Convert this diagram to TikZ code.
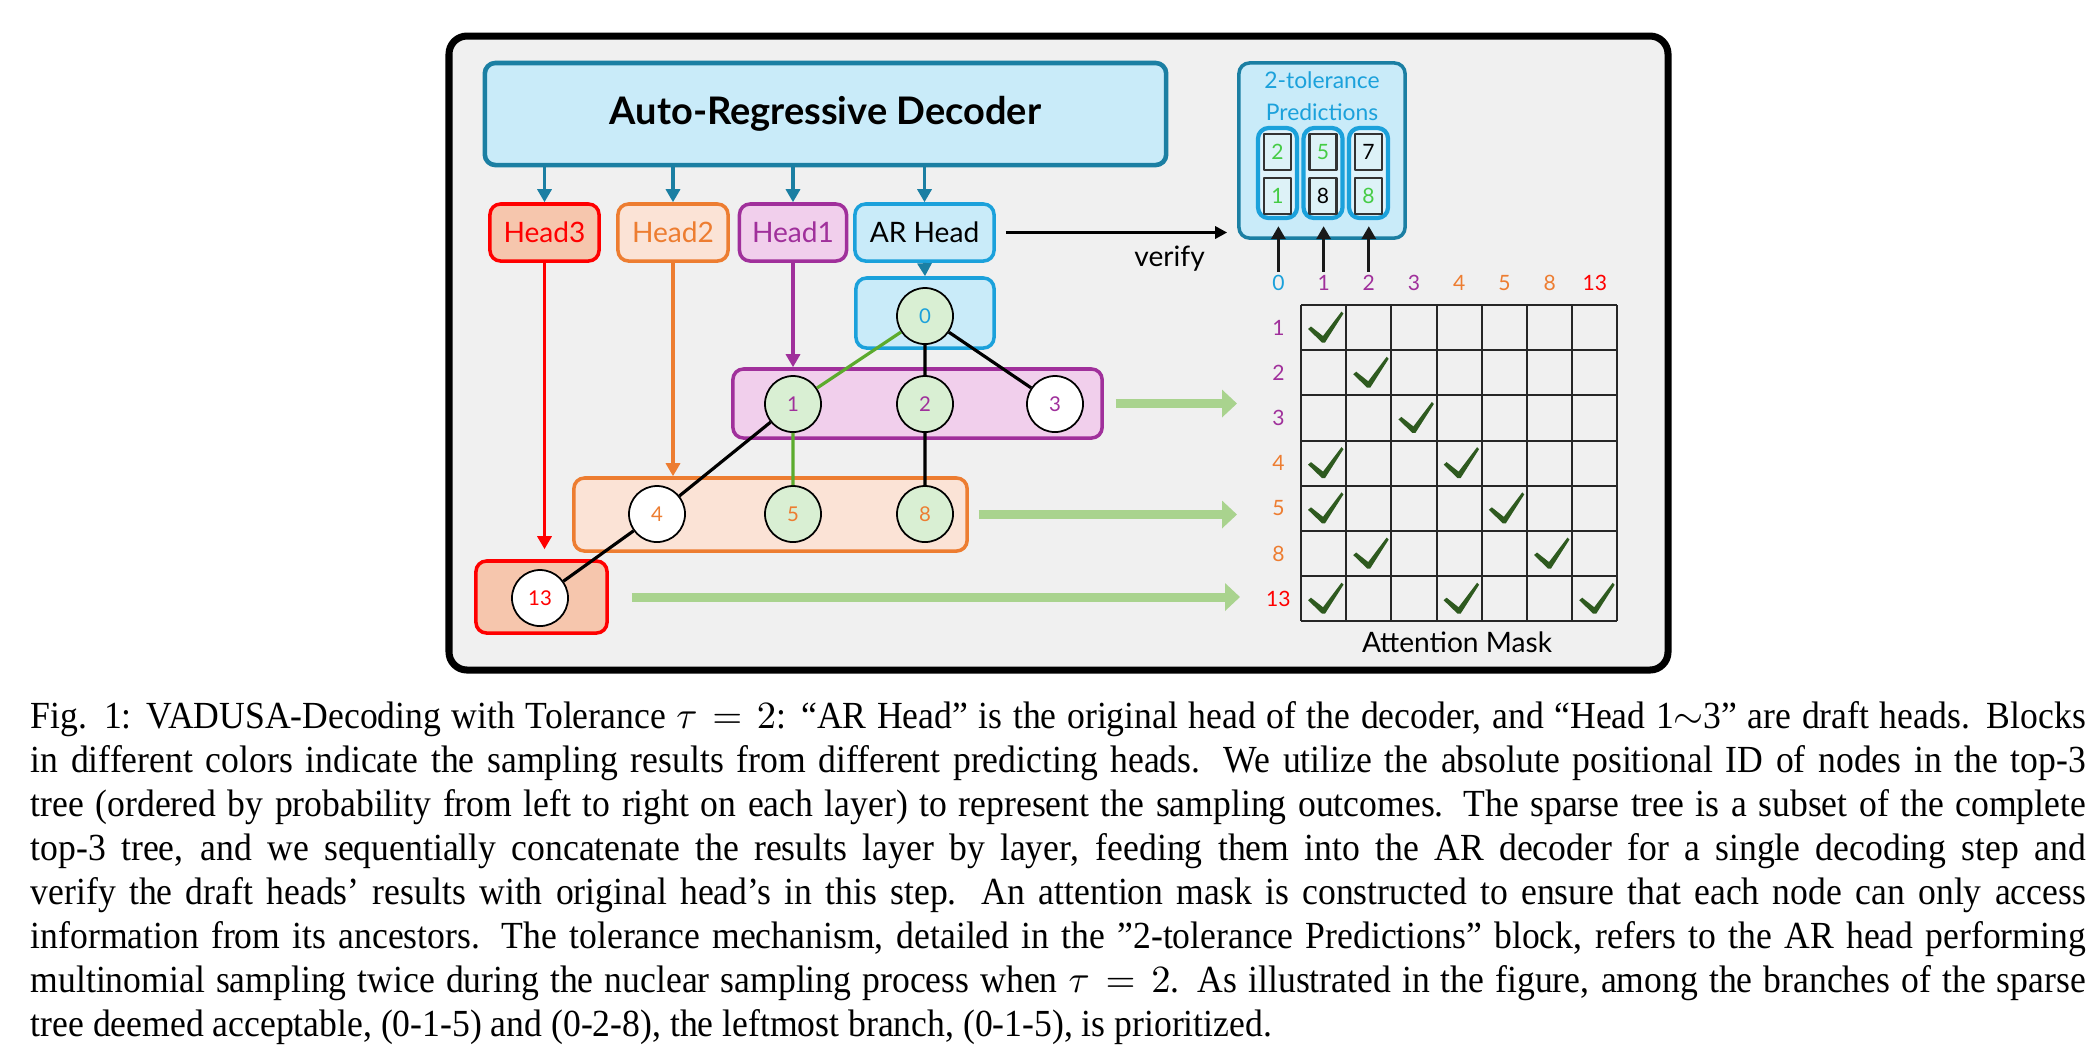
\documentclass[tikz,border=0pt]{standalone}
\usepackage{fontspec}
\setmainfont{Liberation Serif}[FakeStretch=0.93]
\newfontfamily\diagfont{Lato}
\usetikzlibrary{arrows.meta}
\definecolor{decline}{HTML}{1B7FA3}
\definecolor{decfill}{HTML}{C9EBF9}
\definecolor{arblue}{HTML}{1BA1DB}
\definecolor{hpurple}{HTML}{A0309B}
\definecolor{hpurplefill}{HTML}{F1CFEC}
\definecolor{horange}{HTML}{ED7D31}
\definecolor{horangefill}{HTML}{FBE3D6}
\definecolor{hred}{HTML}{FF0000}
\definecolor{hredfill}{HTML}{F6C6AD}
\definecolor{leaf}{HTML}{D9EFD3}
\definecolor{edgegreen}{HTML}{5CAB2D}
\definecolor{flowgreen}{HTML}{A9D38E}
\definecolor{tickgreen}{HTML}{2E5A1F}
\definecolor{predgreen}{HTML}{45CC45}
\definecolor{panel}{HTML}{F0F0F0}
\definecolor{cellfill}{HTML}{DDF2F7}
\begin{document}
\begin{tikzpicture}[x=0.01cm,y=-0.01cm,line join=round,
	blk/.style={draw=#1,line width=1pt,rounded corners=3pt,inner sep=0pt},
	hd/.style={blk=#1,minimum height=0.57cm,text=#1,font=\diagfont\fontsize{8}{10}\selectfont},
	tok/.style={circle,draw,line width=0.5pt,minimum size=0.56cm,inner sep=0pt,font=\diagfont\fontsize{5.8}{7}\selectfont},
	lbl/.style={inner sep=0pt,font=\diagfont\fontsize{6}{7}\selectfont},
	cell/.style={draw=black!80,line width=0.6pt,fill=cellfill,minimum width=0.27cm,minimum height=0.36cm,inner sep=0pt,font=\diagfont\fontsize{6}{7}\selectfont},
	hdarr/.style={-{Triangle[length=0.13cm,width=0.14cm]},line width=0.9pt},
	feed/.style={-{Triangle[length=0.15cm,width=0.27cm]},line width=0.09cm,flowgreen}]
	\useasboundingbox (0,0) rectangle (2100,1059);
	\draw[line width=2pt,rounded corners=0.18cm,fill=panel] (449,36) rectangle (1668,670);
	\node[blk=decline,line width=1.3pt,fill=decfill,minimum width=6.81cm,minimum height=1.02cm,font=\diagfont\bfseries\fontsize{10.8}{12}\selectfont] (dec) at (825.5,114) {Auto-Regressive Decoder};
	\node[hd=hred,fill=hredfill,minimum width=1.09cm] (h3) at (544.5,232.5) {Head3};
	\node[hd=horange,fill=horangefill,minimum width=1.10cm] (h2) at (673,232.5) {Head2};
	\node[hd=hpurple,fill=hpurplefill,minimum width=1.07cm] (h1) at (793,232.5) {Head1};
	\node[hd=arblue,fill=decfill,minimum width=1.39cm,text=black] (ar) at (924.5,232.5) {AR Head};
	\foreach \h in {h3,h2,h1,ar}\draw[hdarr,decline] (\h.north |- dec.south) -- (\h.north);
	\node[blk=arblue,fill=decfill,minimum width=1.38cm,minimum height=0.70cm] (b0) at (925,313) {};
	\node[blk=hpurple,fill=hpurplefill,minimum width=3.69cm,minimum height=0.69cm] (b1) at (917.5,403.5) {};
	\node[blk=horange,fill=horangefill,minimum width=3.93cm,minimum height=0.73cm] (b2) at (770.5,514.5) {};
	\node[blk=hred,fill=hredfill,minimum width=1.31cm,minimum height=0.72cm] (b3) at (541.5,597) {};
	\draw[hdarr,decline] (ar.south) -- (b0.north);
	\draw[hdarr,hpurple] (h1.south) -- (h1.south |- b1.north);
	\draw[hdarr,horange] (h2.south) -- (h2.south |- b2.north);
	\draw[hdarr,hred,shorten >=0.1cm] (h3.south) -- (h3.south |- b3.north);
	\foreach \n/\x/\y/\cl/\f in {0/925/316/arblue/leaf,1/793/404/hpurple/leaf,2/925/404/hpurple/leaf,3/1055/404/hpurple/white,4/657/514/horange/white,5/793/514/horange/leaf,8/925/514/horange/leaf,13/540/598/hred/white}
		\node[tok,fill=\f,text=\cl] (n\n) at (\x,\y) {\n};
	\draw[line width=0.9pt,edgegreen] (n0)--(n1)--(n5);
	\draw[line width=0.9pt] (n0)--(n2)--(n8) (n0)--(n3) (n1)--(n4)--(n13);
	\node[blk=decline,fill=decfill,minimum width=1.66cm,minimum height=1.75cm] (tol) at (1322,150.5) {};
	\node[align=center,inner sep=0pt,text=arblue,font=\diagfont\fontsize{6.5}{9.1}\selectfont] (toltxt) at (1322,96) {2-tolerance\\Predictions};
	\draw[-{Triangle[length=0.12cm,width=0.12cm]},line width=0.9pt,shorten <=0.1cm,shorten >=0.1cm] (ar) -- (ar -| tol.west) node[pos=0.72,below,font=\diagfont\fontsize{8}{10}\selectfont] (vlab) {verify};
	\foreach \i/\x/\t/\b/\tc/\bc in {0/1277.5/2/1/predgreen/predgreen,1/1323/5/8/predgreen/black,2/1368.5/7/8/black/predgreen}{
		\node[blk=arblue,line width=1.2pt,fill=decfill!60!white,minimum width=0.39cm,minimum height=0.90cm] (c\i) at (\x,173) {};
		\node[cell,text=\tc] (ct\i) at ([yshift=0.21cm]c\i.center) {\t};
		\node[cell,text=\bc] (cb\i) at ([yshift=-0.23cm]c\i.center) {\b};
	}
	\foreach \t/\cl [count=\k from 0] in {0/arblue,1/hpurple,2/hpurple,3/hpurple,4/horange,5/horange,8/horange,13/hred}
		\node[lbl,text=\cl] (col\t) at ({1278.4+45.2*\k},283) {\t};
	\foreach \i in {0,1,2}\draw[hdarr,black!90,shorten <=0.03cm,shorten >=0.06cm] (col\i.north) -- (col\i.north |- c\i.south);
	\foreach \t/\cl [count=\k] in {1/hpurple,2/hpurple,3/hpurple,4/horange,5/horange,8/horange,13/hred}
		\node[lbl,text=\cl] (row\t) at (1278.4,{282.4+45.2*\k}) {\t};
	\foreach \k in {0,...,7}\draw[line width=0.6pt,black!85] ({1301+45.2*\k},305) -- ({1301+45.2*\k},621.4) (1301,{305+45.2*\k}) -- (1617.4,{305+45.2*\k});
	\foreach \r/\q in {1/1,2/2,3/3,4/1,4/4,5/1,5/5,6/2,6/6,7/1,7/4,7/7}
		\fill[tickgreen,shift={({1301+45.2*(\q-1)},{305+45.2*(\r-1)})}] (7,24)--(10,21.5)--(22,31)--(40.5,6.5)--(42.5,8.5)--(24,37.5)--(21,37.5)--cycle;
	\coordinate (gridw) at (1237,0);
	\draw[feed] ([xshift=0.12cm]b1.east) -- (b1.east -| gridw);
	\draw[feed] ([xshift=0.10cm]b2.east) -- (b2.east -| gridw);
	\draw[feed] ([xshift=0.23cm]b3.east) -- ([xshift=0.03cm]b3.east -| gridw);
	\node[inner sep=0pt,font=\diagfont\fontsize{8}{10}\selectfont] (amask) at (1457,642) {Attention Mask};
	\node[anchor=base west,inner sep=0pt,text width=20.54cm,align=justify,font=\fontsize{10.9}{12.52}\selectfont] (cap) at (30,728) {Fig. 1: VADUSA-Decoding with Tolerance $\tau = 2$: “AR Head” is the original head of the decoder, and “Head 1$\sim$3” are draft heads. Blocks\linebreak
	in different colors indicate the sampling results from different predicting heads. We utilize the absolute positional ID of nodes in the top-3\linebreak
	tree (ordered by probability from left to right on each layer) to represent the sampling outcomes. The sparse tree is a subset of the complete\linebreak
	top-3 tree, and we sequentially concatenate the results layer by layer, feeding them into the AR decoder for a single decoding step and\linebreak
	verify the draft heads’ results with original head’s in this step. An attention mask is constructed to ensure that each node can only access\linebreak
	information from its ancestors. The tolerance mechanism, detailed in the ”2-tolerance Predictions” block, refers to the AR head performing\linebreak
	multinomial sampling twice during the nuclear sampling process when $\tau = 2$. As illustrated in the figure, among the branches of the sparse\linebreak
	tree deemed acceptable, (0-1-5) and (0-2-8), the leftmost branch, (0-1-5), is prioritized.};
\end{tikzpicture}
\end{document}
